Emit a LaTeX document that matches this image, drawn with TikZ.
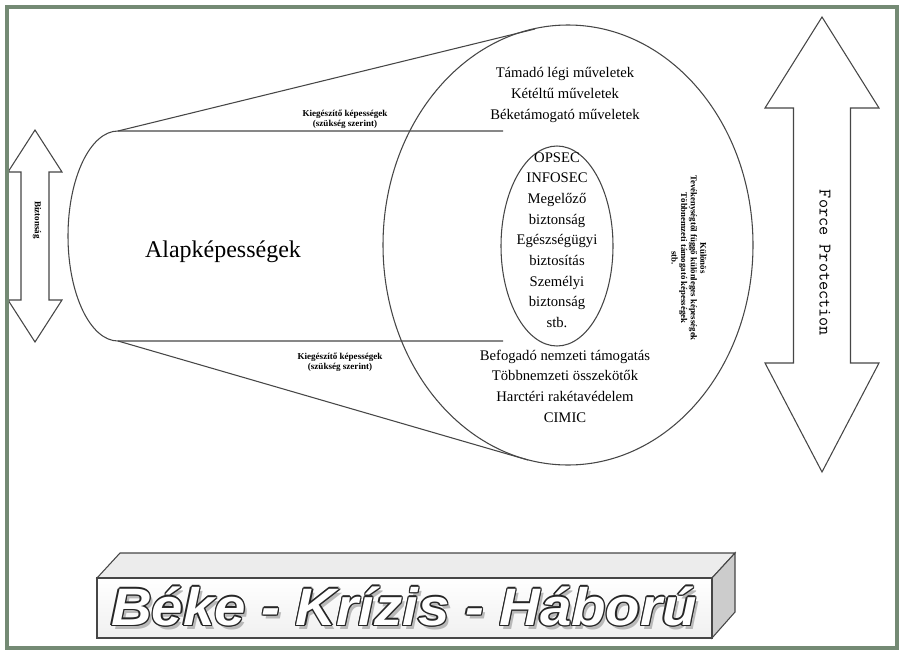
\documentclass[tikz,border=0pt]{standalone}
\usepackage{fontspec}
\setmainfont{Liberation Serif}
\newfontfamily\titlef{Liberation Sans}
\definecolor{framec}{RGB}{116,138,116}
\definecolor{linec}{RGB}{70,70,70}
\newcommand{\titletext}{\scalebox{1.07}[1]{Béke - Krízis - Háború}}
\begin{document}
\begin{tikzpicture}[x=0.75pt,y=-0.75pt]
\useasboundingbox (0,0) rectangle (899,653);
\tikzset{
  outl/.style={draw=linec, line width=0.8pt},
  lbl/.style={align=center, inner sep=0pt, font=\fontsize{11}{15.5}\selectfont},
  tinylbl/.style={align=center, inner sep=0pt, font=\bfseries\fontsize{6.8}{7.6}\selectfont},
  sidelbl/.style={align=center, inner sep=0pt, font=\bfseries\fontsize{6.6}{7.2}\selectfont},
  titletxt/.style={inner sep=0pt, font=\titlef\bfseries\itshape\fontsize{39.5}{42}\selectfont},
}
% ---- cone lines
\coordinate (ctop) at (118,131);
\coordinate (cbot) at (118,341);
\coordinate (etop) at (535,29);
\coordinate (ebot) at (528,460);
\draw[outl] (ctop) -- (etop);
\draw[outl] (cbot) -- (ebot);
% ---- cylinder
\coordinate (ltop) at (503,131);
\coordinate (lbot) at (503,341);
\draw[outl] (ltop) -- (ctop) arc[start angle=270,end angle=90,x radius=50,y radius=105] -- (lbot);
% ---- ellipses
\coordinate (bigc) at (568,245);
\coordinate (innc) at (557,246);
\draw[outl] (bigc) ellipse [x radius=185, y radius=220];
\draw[outl] (innc) ellipse [x radius=56, y radius=100];
% ---- texts
\node[lbl] (upper) at (565,95) {Támadó légi műveletek\\Kétéltű műveletek\\Béketámogató műveletek};
\node[lbl] (innertxt) at (557,240) {OPSEC\\INFOSEC\\Megelőző\\biztonság\\Egészségügyi\\biztosítás\\Személyi\\biztonság\\stb.};
\node[lbl] (lower) at (565,386) {Befogadó nemzeti támogatás\\Többnemzeti összekötők\\Harctéri rakétavédelem\\CIMIC};
\node[inner sep=0pt, font=\fontsize{18}{20}\selectfont] (alap) at (223,252) {Alapképességek};
\node[tinylbl] (kieg1) at (345,119) {Kiegészítő képességek\\(szükség szerint)};
\node[tinylbl] (kieg2) at (340,362) {Kiegészítő képességek\\(szükség szerint)};
\node[sidelbl, rotate=-90] (kulonos) at (689,258) {Különös\\Tevékenységtől függő különleges képességek\\Többnemzeti támogató képességek\\stb.};
% ---- left double arrow
\draw[outl, fill=white] (35,130) -- (62,172) -- (49,172) -- (49,300) -- (62,300) -- (35,342)
  -- (8,300) -- (21,300) -- (21,172) -- (8,172) -- cycle;
\node[tinylbl, rotate=-90] (bizt) at (37,220) {Biztonság};
% ---- right double arrow
\draw[outl, fill=white] (822,17) -- (879,108) -- (850.5,108) -- (850.5,363) -- (879,363) -- (822,472)
  -- (765,363) -- (793.5,363) -- (793.5,108) -- (765,108) -- cycle;
\node[inner sep=0pt, rotate=-90, font=\ttfamily\fontsize{13.3}{14}\selectfont] (fp) at (825,263) {Force Protection};
% ---- bottom 3D box
\draw[outl, fill=gray!15] (97,578) -- (120,553) -- (735,553) -- (712,578) -- cycle;
\draw[outl, fill=gray!40] (712,578) -- (735,553) -- (735,612) -- (712,638) -- cycle;
\draw[outl, top color=white, bottom color=gray!12] (97,578) rectangle (712,638);
\node[titletxt, text=gray!55] (tshadow) at (407,610) {\titletext};
\foreach \dx/\dy [count=\i] in {1.3/0,-1.3/0,0/1.3,0/-1.3,1/1,1/-1,-1/1,-1/-1}
  \node[titletxt, text=black!85] (tout\i) at (404+\dx,606+\dy) {\titletext};
\node[titletxt, text=white] (title) at (404,606) {\titletext};
% ---- frame
\draw[framec, line width=2.3pt] (7,7) rectangle (897,648);
\end{tikzpicture}
\end{document}
